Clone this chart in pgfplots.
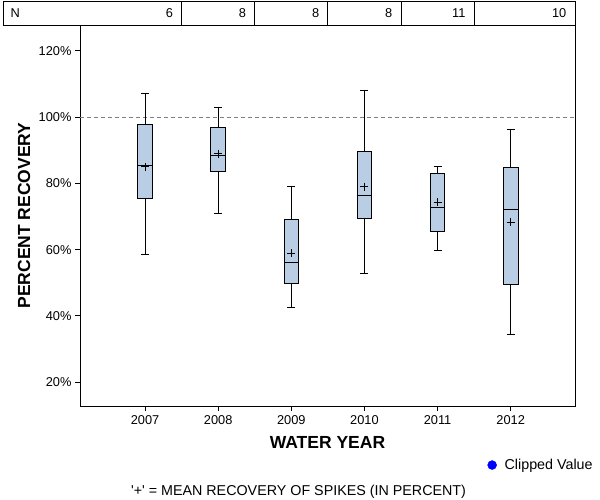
\documentclass[border=0pt]{standalone}
\usepackage{fontspec}
\setmainfont{Liberation Sans}[Ligatures=TeXOff]
\usepackage{pgfplots}
\usepackage{pgfplotstable}
\pgfplotsset{compat=1.18}
\definecolor{boxblue}{RGB}{185,205,229}
\newcommand{\tickfont}{\fontsize{12.8bp}{15bp}\selectfont}
\newcommand{\labfont}{\bfseries\fontsize{17.5bp}{20bp}\selectfont}
\newcommand{\legfont}{\fontsize{14.3bp}{17bp}\selectfont}
% x  lw    lq    med   uq    uw    mean
\pgfplotstableread{
x lw lq med uq uw mean
0 58.7 75.6 85.3 97.8 107.0 85.0
1 70.9 83.7 88.4 96.8 102.8 89.0
2 42.6 49.9 56.2 69.0 79.0 58.9
3 52.8 69.5 76.4 89.6 108.2 79.0
4 59.8 65.5 72.8 82.9 85.1 74.3
5 34.4 49.6 72.2 84.8 96.3 68.2
}\stats
\begin{document}
\begin{tikzpicture}[x=1bp,y=1bp]
\useasboundingbox (0,0) rectangle (600,500);
\begin{axis}[
  at={(80bp,94bp)}, anchor=south west,
  scale only axis, width=495bp, height=381bp,
  xmin=-0.89, xmax=5.88, ymin=12.8, ymax=127.8,
  xtick={0,1,2,3,4,5},
  xticklabels={2007,2008,2009,2010,2011,2012},
  ytick={20,40,60,80,100,120},
  yticklabel={\pgfmathprintnumber{\tick}\%},
  /pgf/number format/assume math mode=true,
  xtick pos=bottom, ytick pos=left,
  tick align=outside, major tick length=5bp,
  tick style={black, line width=0.8bp},
  axis line style={line width=0.8bp},
  ticklabel style={font=\tickfont},
  xticklabel style={yshift=-1bp},
  xlabel={WATER YEAR},
  ylabel={PERCENT RECOVERY},
  xlabel style={at={(axis description cs:0.5,-0.097)}, anchor=center, font=\labfont},
  ylabel style={at={(axis description cs:-0.113,0.5)}, anchor=center, font=\labfont},
  clip=false,
  legend style={at={(axis description cs:1.04,-0.155)}, anchor=east, draw=none, fill=none, font=\legfont, inner sep=0pt},
  legend cell align=left,
]
\addlegendimage{only marks, mark=*, mark size=4.5bp, blue}
\addlegendentry{\hspace{6bp}Clipped Value}

\addplot[gray, dash pattern=on 4bp off 3bp, line width=0.7bp] coordinates {(-0.89,100) (5.88,100)};

% whiskers (vertical stems and caps)
\addplot[black, line width=0.8bp, unbounded coords=jump] coordinates {
 (0,97.8) (0,107.0) (nan,nan) (0,75.6) (0,58.7) (nan,nan) (-0.055,107.0) (0.055,107.0) (nan,nan) (-0.055,58.7) (0.055,58.7) (nan,nan)
 (1,96.8) (1,102.8) (nan,nan) (1,83.7) (1,70.9) (nan,nan) (0.945,102.8) (1.055,102.8) (nan,nan) (0.945,70.9) (1.055,70.9) (nan,nan)
 (2,69.0) (2,79.0) (nan,nan) (2,49.9) (2,42.6) (nan,nan) (1.945,79.0) (2.055,79.0) (nan,nan) (1.945,42.6) (2.055,42.6) (nan,nan)
 (3,89.6) (3,108.2) (nan,nan) (3,69.5) (3,52.8) (nan,nan) (2.945,108.2) (3.055,108.2) (nan,nan) (2.945,52.8) (3.055,52.8) (nan,nan)
 (4,82.9) (4,85.1) (nan,nan) (4,65.5) (4,59.8) (nan,nan) (3.945,85.1) (4.055,85.1) (nan,nan) (3.945,59.8) (4.055,59.8) (nan,nan)
 (5,84.8) (5,96.3) (nan,nan) (5,49.6) (5,34.4) (nan,nan) (4.945,96.3) (5.055,96.3) (nan,nan) (4.945,34.4) (5.055,34.4)
};

% boxes
\addplot[draw=black, fill=boxblue, line width=0.8bp] coordinates {(-0.1,75.6) (0.1,75.6) (0.1,97.8) (-0.1,97.8) (-0.1,75.6)} -- cycle;
\addplot[draw=black, fill=boxblue, line width=0.8bp] coordinates {(0.9,83.7) (1.1,83.7) (1.1,96.8) (0.9,96.8) (0.9,83.7)} -- cycle;
\addplot[draw=black, fill=boxblue, line width=0.8bp] coordinates {(1.9,49.9) (2.1,49.9) (2.1,69.0) (1.9,69.0) (1.9,49.9)} -- cycle;
\addplot[draw=black, fill=boxblue, line width=0.8bp] coordinates {(2.9,69.5) (3.1,69.5) (3.1,89.6) (2.9,89.6) (2.9,69.5)} -- cycle;
\addplot[draw=black, fill=boxblue, line width=0.8bp] coordinates {(3.9,65.5) (4.1,65.5) (4.1,82.9) (3.9,82.9) (3.9,65.5)} -- cycle;
\addplot[draw=black, fill=boxblue, line width=0.8bp] coordinates {(4.9,49.6) (5.1,49.6) (5.1,84.8) (4.9,84.8) (4.9,49.6)} -- cycle;

% medians
\addplot[black, line width=0.8bp, unbounded coords=jump] coordinates {
 (-0.1,85.3) (0.1,85.3) (nan,nan) (0.9,88.4) (1.1,88.4) (nan,nan) (1.9,56.2) (2.1,56.2) (nan,nan)
 (2.9,76.4) (3.1,76.4) (nan,nan) (3.9,72.8) (4.1,72.8) (nan,nan) (4.9,72.2) (5.1,72.2)
};

% means
\addplot[only marks, mark=+, mark size=4bp, black, mark options={line width=0.8bp}] table[x=x, y=mean] {\stats};

% N table
\draw[line width=0.8bp] (axis cs:-1.937,127.8) rectangle (axis cs:5.88,135.04);
\draw[line width=0.8bp] (axis cs:0.5,127.8) -- (axis cs:0.5,135.04);
\draw[line width=0.8bp] (axis cs:1.5,127.8) -- (axis cs:1.5,135.04);
\draw[line width=0.8bp] (axis cs:2.5,127.8) -- (axis cs:2.5,135.04);
\draw[line width=0.8bp] (axis cs:3.5,127.8) -- (axis cs:3.5,135.04);
\draw[line width=0.8bp] (axis cs:4.5,127.8) -- (axis cs:4.5,135.04);
\node[anchor=west, inner sep=0pt, font=\tickfont, xshift=7bp] at (axis cs:-1.937,131.42) {N};
\node[anchor=east, inner sep=0pt, font=\tickfont, xshift=-8.5bp] at (axis cs:0.5,131.42) {6};
\node[anchor=east, inner sep=0pt, font=\tickfont, xshift=-8.5bp] at (axis cs:1.5,131.42) {8};
\node[anchor=east, inner sep=0pt, font=\tickfont, xshift=-8.5bp] at (axis cs:2.5,131.42) {8};
\node[anchor=east, inner sep=0pt, font=\tickfont, xshift=-8.5bp] at (axis cs:3.5,131.42) {8};
\node[anchor=east, inner sep=0pt, font=\tickfont, xshift=-8.5bp] at (axis cs:4.5,131.42) {11};
\node[anchor=east, inner sep=0pt, font=\tickfont, xshift=-8.5bp] at (axis cs:5.88,131.42) {10};
\end{axis}
\node[font=\legfont] at (298.5,8.5) {'+' = MEAN RECOVERY OF SPIKES (IN PERCENT)};
\end{tikzpicture}
\end{document}
